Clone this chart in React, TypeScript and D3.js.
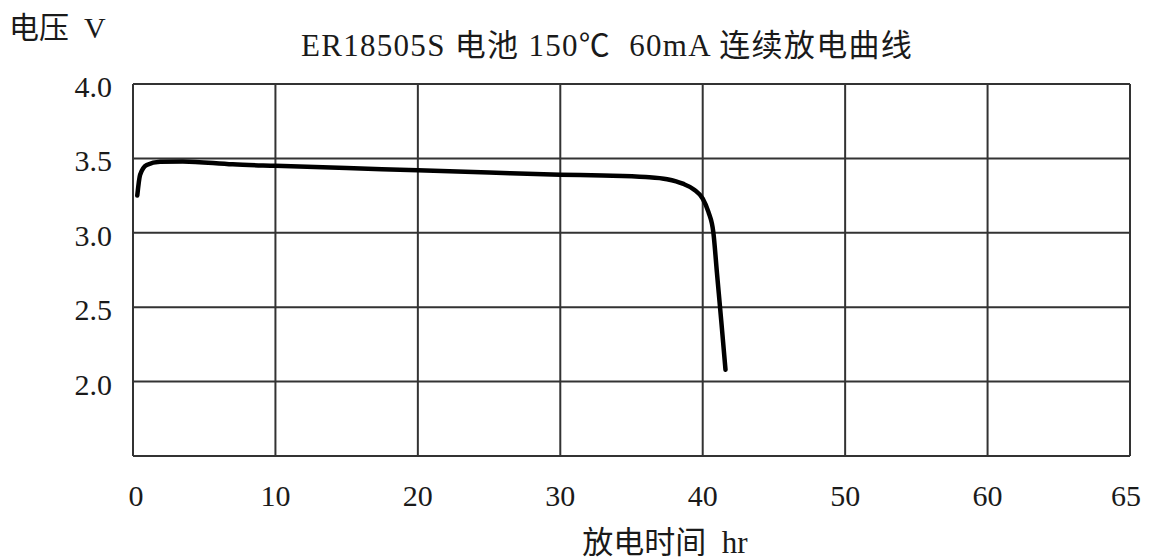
import React from "react";
import * as d3 from "d3";

const hours = [0.3, 0.5, 0.96, 1.9, 3.5, 7, 10, 15, 20, 25, 30, 33, 36, 37.5, 38.6, 39.4, 40.0, 40.4, 40.75, 41.0, 41.3, 41.6];
const volts = [3.25, 3.39, 3.456, 3.478, 3.48, 3.46, 3.45, 3.435, 3.42, 3.405, 3.39, 3.385, 3.375, 3.36, 3.33, 3.29, 3.23, 3.14, 3.0, 2.73, 2.41, 2.08];
const xTickValues = [0, 10, 20, 30, 40, 50, 60, 70];
const xTickLabels = ["0", "10", "20", "30", "40", "50", "60", "65"];
const yGridValues = [1.5, 2.0, 2.5, 3.0, 3.5, 4.0];
const yTickValues = [2.0, 2.5, 3.0, 3.5, 4.0];

const W = 1149, H = 559;
const left = 133, right = 1130, top = 84, bottom = 456;
const FONT = "'Liberation Serif', 'Times New Roman', 'Noto Sans CJK SC', serif";

export default function App() {
  const x = d3.scaleLinear().domain([0, 70]).range([left, right]);
  const y = d3.scaleLinear().domain([1.5, 4.0]).range([bottom, top]);
  const pts: [number, number][] = hours.map((h, i) => [h, volts[i]]);
  const line = d3.line<[number, number]>().x(d => x(d[0])).y(d => y(d[1])).curve(d3.curveMonotoneX);
  return (
    <svg width={W} height={H} style={{ position: "absolute", left: 0, top: 0, background: "#fff" }}>
      <rect x={0} y={0} width={W} height={H} fill="#fff" />
      {xTickValues.map(v => (
        <line key={"gx" + v} x1={x(v)} x2={x(v)} y1={top} y2={bottom} stroke="#333" strokeWidth={2} />
      ))}
      {yGridValues.map(v => (
        <line key={"gy" + v} x1={left} x2={right} y1={y(v)} y2={y(v)} stroke="#333" strokeWidth={2} />
      ))}
      <path d={line(pts) || ""} fill="none" stroke="#000" strokeWidth={4.5} strokeLinecap="round" strokeLinejoin="round" />
      {yTickValues.map(v => (
        <text key={"ty" + v} x={112} y={y(v) + 13} textAnchor="end" fontFamily={FONT} fontSize={30} fill="#1a1a1a">{v.toFixed(1)}</text>
      ))}
      {xTickValues.map((v, i) => (
        <text key={"tx" + v} x={x(v) + (i === 0 ? 3 : i === 7 ? -4 : 0)} y={506} textAnchor="middle" fontFamily={FONT} fontSize={30} fill="#1a1a1a">{xTickLabels[i]}</text>
      ))}
      <text x={9} y={38} fontFamily={FONT} fontSize={30} fill="#1a1a1a">电压&#160;&#160;V</text>
      <text x={607} y={56} textAnchor="middle" fontFamily={FONT} fontSize={31} letterSpacing={1.3} fill="#1a1a1a" style={{ whiteSpace: "pre" }}>{"ER18505S 电池 150℃  60mA 连续放电曲线"}</text>
      <text x={665} y={553} textAnchor="middle" fontFamily={FONT} fontSize={31} fill="#1a1a1a" style={{ whiteSpace: "pre" }}>{"放电时间  hr"}</text>
    </svg>
  );
}
